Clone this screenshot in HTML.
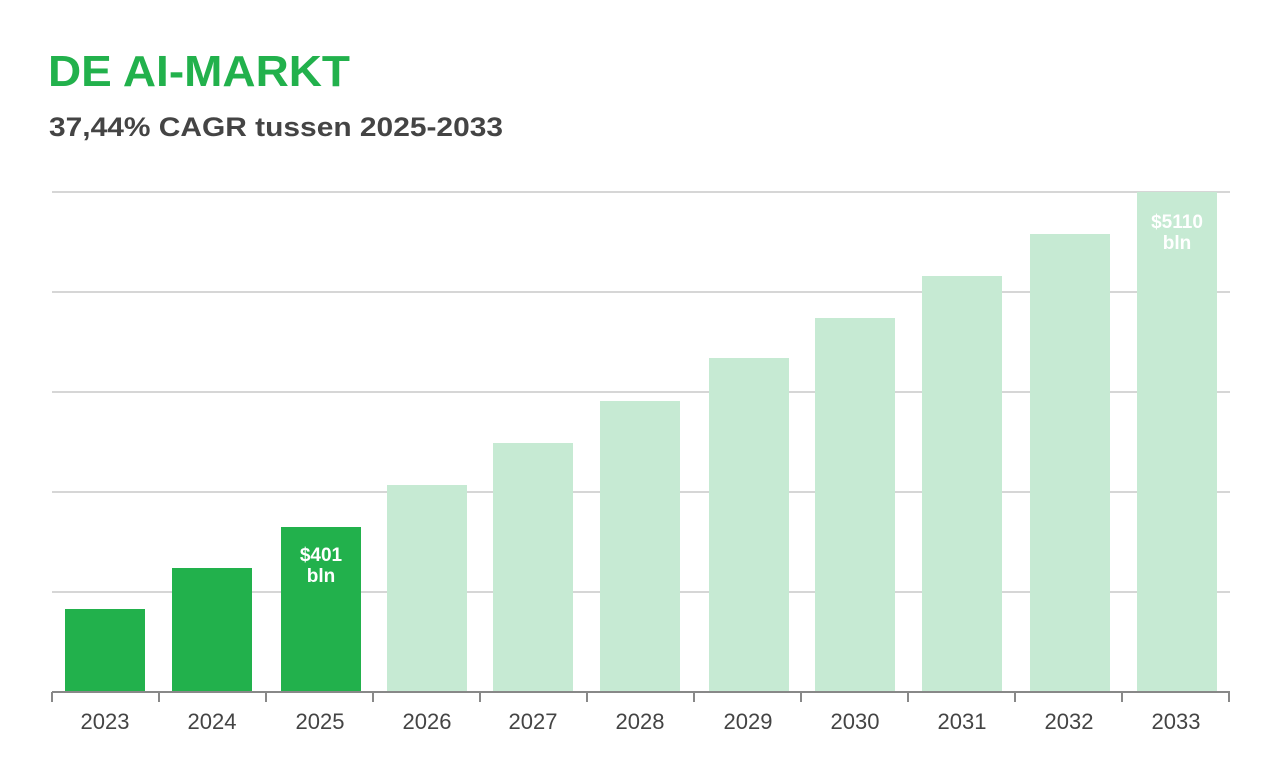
<!DOCTYPE html>
<html><head><meta charset="utf-8"><style>
body{margin:0;width:1280px;height:775px;background:#fff;overflow:hidden;font-family:"Liberation Sans",sans-serif}
</style></head><body>
<svg width="1280" height="775" xmlns="http://www.w3.org/2000/svg" font-family="Liberation Sans, sans-serif">
<text x="48" y="86" font-size="44" font-weight="bold" fill="#22b14c" textLength="302" lengthAdjust="spacingAndGlyphs">DE AI-MARKT</text>
<text x="49" y="136" font-size="27" font-weight="bold" fill="#444" textLength="454" lengthAdjust="spacingAndGlyphs">37,44% CAGR tussen 2025-2033</text>
<g stroke="#d6d6d6" stroke-width="2">
<line x1="52" x2="1230" y1="192" y2="192"/><line x1="52" x2="1230" y1="292" y2="292"/>
<line x1="52" x2="1230" y1="392" y2="392"/><line x1="52" x2="1230" y1="492" y2="492"/>
<line x1="52" x2="1230" y1="592" y2="592"/></g>
<g fill="#22b14c">
<rect x="65" y="609" width="80" height="83"/><rect x="172" y="568" width="80" height="124"/><rect x="281" y="527" width="80" height="165"/></g>
<g fill="#c6ead3">
<rect x="387" y="485" width="80" height="207"/><rect x="493" y="443" width="80" height="249"/>
<rect x="600" y="401" width="80" height="291"/><rect x="709" y="358" width="80" height="334"/>
<rect x="815" y="318" width="80" height="374"/><rect x="922" y="276" width="80" height="416"/>
<rect x="1030" y="234" width="80" height="458"/><rect x="1137" y="192" width="80" height="500"/></g>
<g fill="#fff" font-weight="bold" font-size="19" text-anchor="middle">
<text x="321" y="561">$401</text><text x="321" y="582">bln</text>
<text x="1177" y="228">$5110</text><text x="1177" y="249">bln</text></g>
<g stroke="#888" stroke-width="2">
<line x1="52" x2="1230" y1="692" y2="692"/>
<line x1="52" x2="52" y1="692" y2="702"/><line x1="159" x2="159" y1="692" y2="702"/>
<line x1="266" x2="266" y1="692" y2="702"/><line x1="373" x2="373" y1="692" y2="702"/>
<line x1="480" x2="480" y1="692" y2="702"/><line x1="587" x2="587" y1="692" y2="702"/>
<line x1="694" x2="694" y1="692" y2="702"/><line x1="801" x2="801" y1="692" y2="702"/>
<line x1="908" x2="908" y1="692" y2="702"/><line x1="1015" x2="1015" y1="692" y2="702"/>
<line x1="1122" x2="1122" y1="692" y2="702"/><line x1="1229" x2="1229" y1="692" y2="702"/></g>
<g fill="#444" font-size="22" text-anchor="middle">
<text x="105" y="729">2023</text><text x="212" y="729">2024</text><text x="320" y="729">2025</text>
<text x="427" y="729">2026</text><text x="533" y="729">2027</text><text x="640" y="729">2028</text>
<text x="748" y="729">2029</text><text x="855" y="729">2030</text><text x="962" y="729">2031</text>
<text x="1069" y="729">2032</text><text x="1176" y="729">2033</text></g>
</svg>
</body></html>
